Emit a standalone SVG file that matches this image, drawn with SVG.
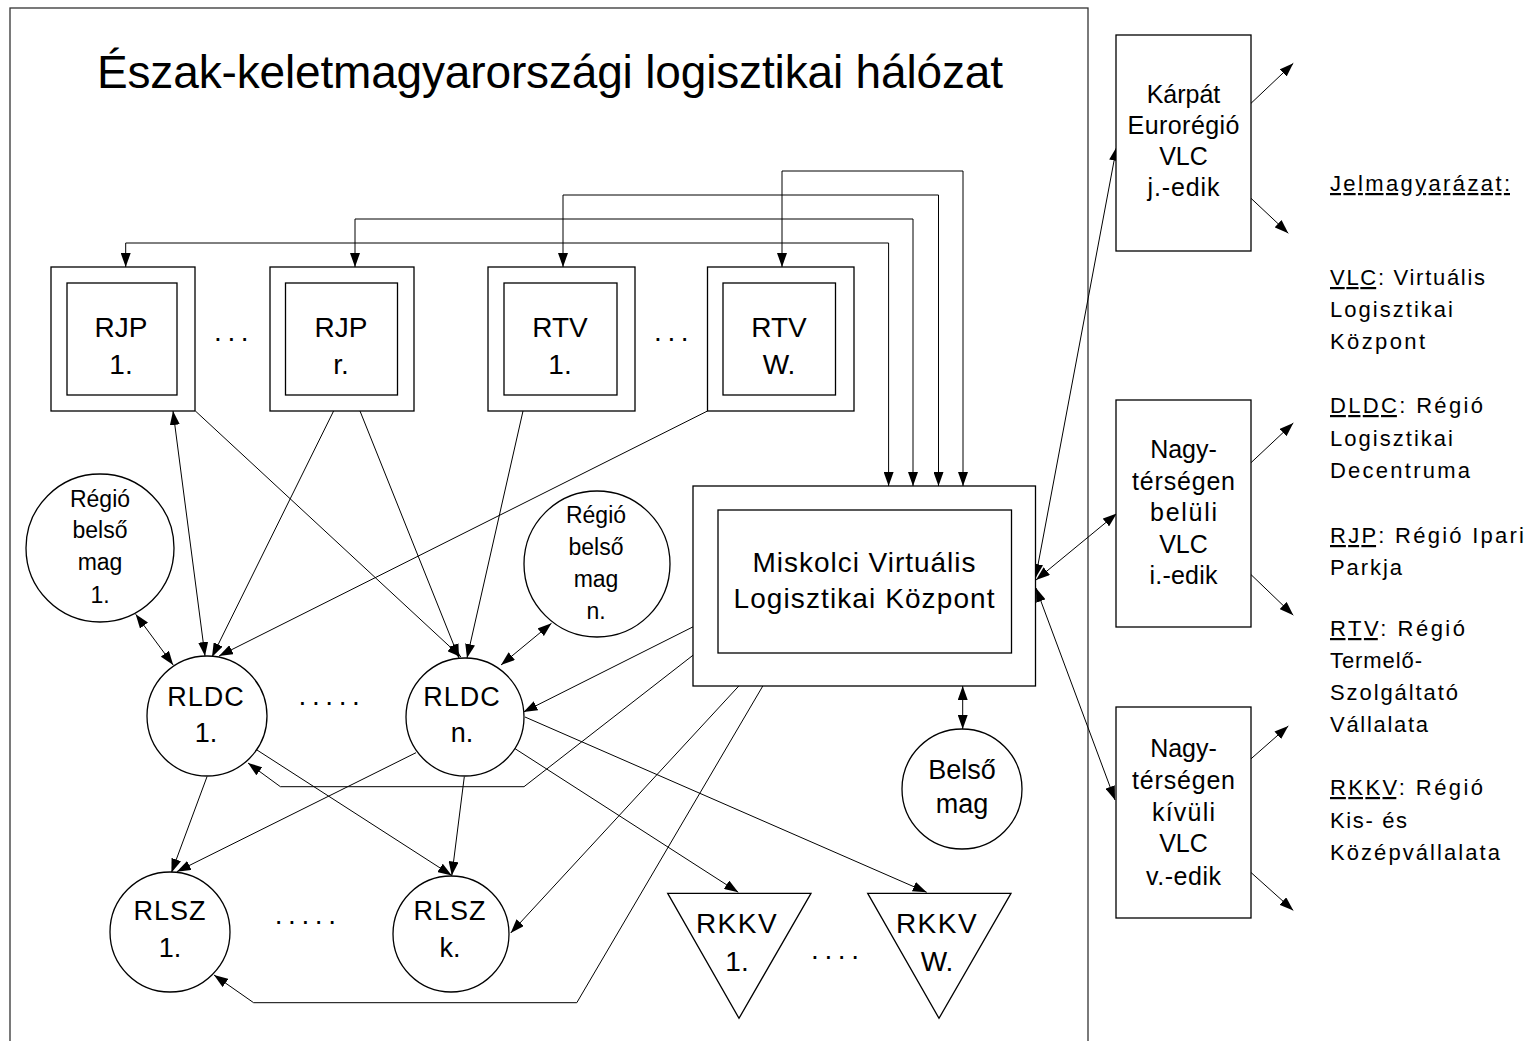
<svg xmlns="http://www.w3.org/2000/svg" width="1527" height="1041" viewBox="0 0 1527 1041">
<style>
text{font-family:"Liberation Sans",Arial,sans-serif;fill:#000}
.t{text-anchor:middle}
.b{fill:#fff;stroke:#000;stroke-width:1.3}
.c{fill:none;stroke:#000;stroke-width:1}
.a1{marker-end:url(#ah)}
.a2{marker-start:url(#ah);marker-end:url(#ah)}
.f28{font-size:28px}
.f27{font-size:27px}
.f26{font-size:26px}
.f25{font-size:25px}
.f23{font-size:23px}
.lg{font-size:22px}
</style>
<defs>
<marker id="ah" viewBox="0 0 14 10" refX="14" refY="5" markerWidth="14" markerHeight="10" markerUnits="userSpaceOnUse" orient="auto-start-reverse"><path d="M0,0L14,5L0,10z" fill="#000"/></marker>
</defs>
<rect width="1527" height="1041" fill="#fff"/>
<g id="frame"><rect x="10" y="8" width="1078" height="1060" fill="none" stroke="#333" stroke-width="1.3"/>
<text x="97" y="88" font-size="46" textLength="906">Észak-keletmagyarországi logisztikai hálózat</text></g>

<g id="connectors">
<path class="c a2" d="M125.7,267 V243 H888.6 V486"/>
<path class="c a2" d="M355,267 V219 H913 V486"/>
<path class="c a2" d="M563,267 V195 H938.5 V486"/>
<path class="c a2" d="M782,267 V171 H963 V486"/>
<path class="c a2" d="M173,411 L205,656"/>
<path class="c a1" d="M195.4,411 L461,657"/>
<path class="c a1" d="M333.6,411 L212,657"/>
<path class="c a1" d="M360,411 L459,658"/>
<path class="c a1" d="M523,411 L467,658"/>
<path class="c a1" d="M707.5,411 L219,656"/>
<path class="c a2" d="M135.7,614.3 L173.2,665"/>
<path class="c a2" d="M551.5,623.3 L501,665"/>
<path class="c a1" d="M693.3,626.7 L523.5,712"/>
<path class="c a1" d="M693.3,655 L524,786.7 L280.4,786.7 L248,763"/>
<path class="c a1" d="M738.8,686 L510.7,933"/>
<path class="c a1" d="M762.8,686 L576.8,1002.7 L253.6,1002.7 L214,975"/>
<path class="c a1" d="M207,776.7 L171.4,872.7"/>
<path class="c a1" d="M416,752.7 L176.8,871.7"/>
<path class="c a1" d="M257,750 L451.8,875.5"/>
<path class="c a1" d="M464.3,776.7 L451.8,875.5"/>
<path class="c a1" d="M514,748 L738.3,892.3"/>
<path class="c a1" d="M525,717 L926.7,892.3"/>
<path class="c a2" d="M962.7,686 L962.7,729"/>
<path class="c a2" d="M1035.5,578 L1116.7,146.7"/>
<path class="c a2" d="M1036,580 L1116.7,513.6"/>
<path class="c a2" d="M1036,588 L1115,800"/>
<path class="c a1" d="M1251,103.3 L1293.3,63.3"/>
<path class="c a1" d="M1251,198.3 L1288.3,233.3"/>
<path class="c a1" d="M1251,462.7 L1293.3,423"/>
<path class="c a1" d="M1251,574.6 L1293.3,615.2"/>
<path class="c a1" d="M1251,758.8 L1288.3,726"/>
<path class="c a1" d="M1251,872.5 L1293.3,910.4"/>
</g>

<g id="rjp1"><rect class="b" x="51" y="267" width="144" height="144"/><rect class="b" x="67" y="283" width="110" height="112"/>
<text class="t f28" x="121" y="337">RJP</text><text class="t f28" x="121" y="374">1.</text></g>
<g id="dots-rjp"><text class="f28" x="214" y="341" letter-spacing="5.6">...</text></g>
<g id="rjpr"><rect class="b" x="270" y="267" width="144" height="144"/><rect class="b" x="285.5" y="283" width="112" height="112"/>
<text class="t f28" x="341" y="337">RJP</text><text class="t f28" x="341" y="374">r.</text></g>
<g id="rtv1"><rect class="b" x="488" y="267" width="147" height="144"/><rect class="b" x="504" y="283" width="113" height="112"/>
<text class="t f28" x="560" y="337">RTV</text><text class="t f28" x="560" y="374">1.</text></g>
<g id="dots-rtv"><text class="f28" x="654" y="341" letter-spacing="5.6">...</text></g>
<g id="rtvw"><rect class="b" x="707.5" y="267" width="146.5" height="144"/><rect class="b" x="723" y="283" width="112.5" height="112"/>
<text class="t f28" x="779" y="337">RTV</text><text class="t f28" x="779" y="374">W.</text></g>

<g id="mvlk"><rect class="b" x="693" y="486" width="342.5" height="200"/><rect class="b" x="718" y="510" width="293.5" height="143"/>
<text class="t f28" x="864" y="572" textLength="223">Miskolci Virtuális</text>
<text class="t f28" x="864" y="608" textLength="261">Logisztikai Központ</text></g>

<g id="rbm1"><circle class="b" cx="100" cy="548" r="74"/>
<text class="t f23" x="100" y="507">Régió</text><text class="t f23" x="100" y="538">belső</text><text class="t f23" x="100" y="570">mag</text><text class="t f23" x="100" y="603">1.</text></g>
<g id="rbmn"><circle class="b" cx="597" cy="564" r="73"/>
<text class="t f23" x="596" y="523">Régió</text><text class="t f23" x="596" y="555">belső</text><text class="t f23" x="596" y="587">mag</text><text class="t f23" x="596" y="619">n.</text></g>

<g id="rldc1"><circle class="b" cx="207" cy="716" r="60"/>
<text class="t f27" x="206" y="706" letter-spacing="1">RLDC</text><text class="t f27" x="206" y="742">1.</text></g>
<g id="dots-rldc"><text class="f28" x="298.5" y="705" letter-spacing="5.6">.....</text></g>
<g id="rldcn"><circle class="b" cx="465" cy="717" r="59"/>
<text class="t f27" x="462" y="706" letter-spacing="1">RLDC</text><text class="t f27" x="462" y="742">n.</text></g>

<g id="rlsz1"><circle class="b" cx="170" cy="932" r="60"/>
<text class="t f27" x="170" y="920" letter-spacing="1">RLSZ</text><text class="t f27" x="170" y="957">1.</text></g>
<g id="dots-rlsz"><text class="f28" x="274.7" y="924" letter-spacing="5.6">.....</text></g>
<g id="rlszk"><circle class="b" cx="451" cy="934" r="58"/>
<text class="t f27" x="450" y="920" letter-spacing="1">RLSZ</text><text class="t f27" x="450" y="957">k.</text></g>

<g id="belsomag"><circle class="b" cx="962" cy="789" r="60"/>
<text class="t f27" x="962" y="779">Belső</text><text class="t f27" x="962" y="813">mag</text></g>

<g id="rkkv1"><polygon class="b" points="667.7,893.3 811,893.3 739,1018.3"/>
<text class="t f28" x="737" y="933" letter-spacing="1.5">RKKV</text><text class="t f28" x="737" y="971">1.</text></g>
<g id="dots-rkkv"><text class="f28" x="811" y="959" letter-spacing="5.6">....</text></g>
<g id="rkkvw"><polygon class="b" points="867.7,893.3 1011,893.3 939,1018.3"/>
<text class="t f28" x="937" y="933" letter-spacing="1.5">RKKV</text><text class="t f28" x="937" y="971">W.</text></g>

<g id="karpat"><rect class="b" x="1116" y="35" width="135" height="216"/>
<text class="t f25" x="1183.5" y="103">Kárpát</text>
<text class="t f25" x="1183.5" y="134" textLength="112">Eurorégió</text>
<text class="t f25" x="1183.5" y="165">VLC</text>
<text class="t f25" x="1183.5" y="196" textLength="72">j.-edik</text></g>

<g id="belul"><rect class="b" x="1116" y="400" width="135" height="227"/>
<text class="t f25" x="1183.5" y="458">Nagy-</text>
<text class="t f25" x="1183.5" y="490" textLength="103">térségen</text>
<text class="t f25" x="1183.5" y="521" textLength="67">belüli</text>
<text class="t f25" x="1183.5" y="553">VLC</text>
<text class="t f25" x="1183.5" y="584" textLength="68">i.-edik</text></g>

<g id="kivul"><rect class="b" x="1116" y="707" width="135" height="211"/>
<text class="t f25" x="1183.5" y="757">Nagy-</text>
<text class="t f25" x="1183.5" y="789" textLength="103">térségen</text>
<text class="t f25" x="1183.5" y="821" textLength="63">kívüli</text>
<text class="t f25" x="1183.5" y="852">VLC</text>
<text class="t f25" x="1183.5" y="885" textLength="75">v.-edik</text></g>

<g id="legend">
<text class="lg" x="1330" y="191" textLength="180" text-decoration="underline">Jelmagyarázat:</text>
<text class="lg" x="1330" y="285" textLength="155"><tspan text-decoration="underline">VLC</tspan>: Virtuális</text>
<text class="lg" x="1330" y="317" textLength="123">Logisztikai</text>
<text class="lg" x="1330" y="349" textLength="95">Központ</text>
<text class="lg" x="1330" y="413" textLength="153"><tspan text-decoration="underline">DLDC</tspan>: Régió</text>
<text class="lg" x="1330" y="446" textLength="123">Logisztikai</text>
<text class="lg" x="1330" y="478" textLength="140">Decentruma</text>
<text class="lg" x="1330" y="543" textLength="194"><tspan text-decoration="underline">RJP</tspan>: Régió Ipari</text>
<text class="lg" x="1330" y="575" textLength="72">Parkja</text>
<text class="lg" x="1330" y="636" textLength="135"><tspan text-decoration="underline">RTV</tspan>: Régió</text>
<text class="lg" x="1330" y="668" textLength="92">Termelő-</text>
<text class="lg" x="1330" y="700" textLength="128">Szolgáltató</text>
<text class="lg" x="1330" y="732" textLength="98">Vállalata</text>
<text class="lg" x="1330" y="795" textLength="153"><tspan text-decoration="underline">RKKV</tspan>: Régió</text>
<text class="lg" x="1330" y="828" textLength="77">Kis- és</text>
<text class="lg" x="1330" y="860" textLength="170">Középvállalata</text>
</g>
</svg>
